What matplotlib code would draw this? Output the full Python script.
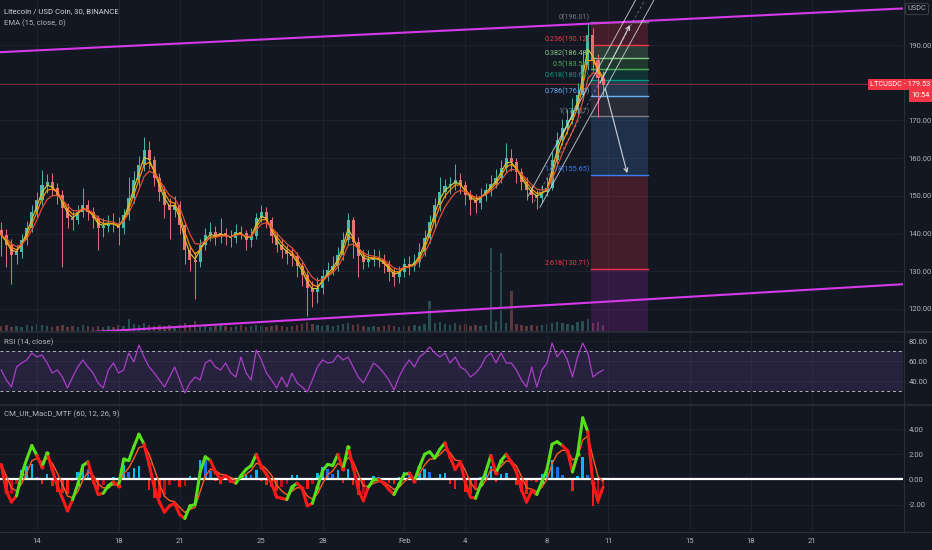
import numpy as np
import pandas as pd
import matplotlib
matplotlib.use('Agg')
import matplotlib.pyplot as plt
from matplotlib.collections import LineCollection
from matplotlib.lines import Line2D
import matplotlib.transforms as mtransforms

plt.rcParams['font.family'] = ['Roboto', 'DejaVu Sans']

# ---------------- data ----------------
first_open = 141.0
closes = [139.6, 137.0, 134.3, 135.1, 138.3, 141.5, 145.7, 148.9, 152.9, 153.7,
          152.1, 150.2, 146.8, 144.1, 143.6, 145.7, 147.6, 145.7, 144.1, 141.5,
          142.0, 142.8, 142.5, 141.5, 144.9, 149.4, 154.2, 158.2, 162.1, 159.5,
          154.7, 151.0, 147.6, 146.2, 147.6, 142.3, 135.6, 133.0, 132.4, 136.9,
          139.6, 140.4, 139.3, 140.1, 139.3, 138.8, 140.4, 140.1, 138.3, 139.3,
          144.1, 145.7, 143.6, 139.3, 137.0, 135.6, 134.6, 134.0, 131.4, 129.0,
          125.5, 124.5, 125.5, 128.7, 130.3, 131.4, 134.3, 138.3, 143.6, 137.7,
          134.0, 132.4, 133.0, 133.5, 133.0, 131.9, 129.8, 128.5, 129.8, 131.9,
          131.4, 132.4, 135.1, 138.8, 143.0, 147.6, 151.0, 152.6, 153.1, 154.2,
          152.9, 150.2, 148.9, 148.1, 149.9, 151.5, 153.1, 154.7, 157.4, 160.0,
          159.0, 156.3, 153.7, 151.5, 150.2, 149.4, 151.0, 152.1, 159.5, 164.8,
          168.0, 170.1, 172.8, 176.7, 184.7, 192.7, 186.0, 181.2, 179.5]
highs = [143.0, 141.2, 138.5, 137.0, 140.0, 143.2, 147.5, 151.0, 156.8, 155.8,
         156.0, 153.5, 151.5, 148.0, 146.0, 147.5, 152.0, 149.0, 147.0, 145.0,
         144.0, 145.0, 145.5, 144.5, 146.5, 155.0, 156.5, 160.5, 165.6, 164.5,
         160.5, 156.0, 152.5, 149.5, 150.0, 148.5, 143.0, 137.0, 135.0, 138.5,
         141.5, 143.0, 142.0, 144.0, 141.5, 141.0, 142.5, 142.0, 141.0, 141.5,
         145.5, 147.5, 147.0, 144.5, 140.5, 138.5, 137.0, 136.5, 135.0, 132.5,
         130.0, 127.5, 128.5, 130.5, 132.5, 134.0, 136.5, 140.5, 145.5, 144.5,
         139.0, 135.5, 135.5, 136.0, 135.5, 134.5, 133.0, 131.0, 131.5, 133.5,
         134.0, 134.5, 137.5, 141.0, 145.0, 149.5, 155.0, 154.5, 155.0, 158.5,
         156.0, 154.0, 151.5, 150.5, 152.0, 153.5, 155.5, 157.0, 159.5, 164.0,
         162.5, 160.0, 157.5, 155.0, 153.0, 151.5, 153.0, 155.0, 161.5, 167.0,
         170.5, 173.0, 176.0, 180.0, 188.5, 196.0, 194.5, 187.5, 183.0]
lows = [134.0, 131.0, 126.5, 131.8, 133.5, 137.0, 140.5, 144.5, 147.5, 150.8,
        150.0, 147.8, 131.0, 141.5, 141.0, 142.5, 144.5, 143.5, 141.5, 135.5,
        139.0, 140.5, 140.5, 137.0, 140.0, 143.5, 148.0, 152.5, 156.5, 157.0,
        152.5, 148.5, 144.0, 138.5, 144.5, 140.0, 132.0, 130.0, 122.5, 131.0,
        135.5, 138.0, 137.0, 137.5, 137.0, 136.5, 137.5, 138.5, 135.5, 136.5,
        138.5, 143.0, 141.5, 137.5, 135.0, 133.5, 132.0, 131.5, 128.5, 126.0,
        118.0, 120.5, 121.5, 124.0, 127.5, 129.0, 130.0, 133.0, 137.0, 133.5,
        128.5, 130.5, 131.0, 131.5, 131.0, 129.5, 127.5, 126.0, 127.0, 128.5,
        129.0, 130.0, 131.0, 134.0, 137.5, 141.5, 146.0, 149.5, 150.5, 151.5,
        150.5, 147.5, 145.0, 145.5, 146.5, 148.5, 150.0, 152.0, 153.5, 156.0,
        156.5, 153.5, 151.5, 149.0, 148.0, 146.5, 148.0, 150.0, 151.5, 158.5,
        163.5, 166.5, 169.0, 171.5, 175.5, 183.5, 183.0, 171.0, 176.5]
volumes = [5, 6, 4, 5, 4, 6, 5, 7, 6, 5,
           4, 5, 6, 4, 5, 4, 6, 5, 4, 5,
           4, 5, 4, 6, 5, 12, 7, 6, 8, 6,
           5, 6, 5, 6, 5, 7, 8, 6, 10, 6,
           5, 4, 5, 6, 5, 4, 5, 6, 4, 5,
           6, 5, 4, 5, 6, 5, 4, 5, 6, 7,
           9, 7, 6, 5, 6, 5, 6, 7, 8, 6,
           7, 5, 4, 5, 4, 5, 6, 5, 4, 5,
           5, 6, 5, 7, 30, 8, 9, 7, 6, 8,
           6, 7, 5, 6, 5, 6, 83, 10, 78, 8,
           40, 7, 6, 5, 6, 5, 6, 7, 8, 9,
           8, 7, 6, 9, 10, 12, 8, 9, 6]
rsi_vals = [51, 41, 34, 54, 58, 61, 68, 64, 66, 58,
            48, 51, 44, 33, 44, 54, 61, 54, 48, 38,
            33, 51, 58, 48, 51, 68, 59, 76, 64, 54,
            48, 41, 34, 44, 54, 41, 28, 38, 44, 41,
            58, 61, 54, 51, 58, 48, 44, 64, 48, 41,
            71, 61, 48, 41, 33, 44, 34, 48, 38, 34,
            29, 41, 54, 61, 58, 59, 66, 61, 64, 54,
            44, 38, 48, 58, 54, 48, 41, 31, 44, 54,
            61, 54, 64, 68, 74, 68, 64, 68, 58, 64,
            54, 51, 44, 48, 54, 64, 68, 58, 68, 58,
            58, 51, 41, 34, 54, 34, 51, 58, 78, 64,
            71, 61, 44, 64, 78, 68, 44, 48, 51]
macd_vals = [1.2, -0.9, -1.8, -1.3, 0.4, 1.6, 2.7, 1.9, 1.0, 2.1,
             0.8, -0.5, -1.5, -2.5, -1.6, -0.4, 1.1, 1.4, 0.0, -1.2,
             -1.1, -0.5, -0.2, -0.5, 1.6, 1.5, 2.6, 3.6, 2.8, 1.2,
             -0.6, -1.8, -2.6, -2.1, -1.9, -2.8, -3.1, -2.1, -2.0, 0.6,
             1.8, 1.5, 0.6, 0.0, 0.3, -0.1, -0.3, 0.3, 0.8, 1.1,
             2.0, 1.0, 0.4, -0.3, -1.4, -1.5, -1.6, -0.6, -0.3, -0.7,
             -2.1, -1.9, -0.6, 0.7, 1.2, 1.1, 2.0, 0.8, 2.6, 1.0,
             -0.8, -1.7, -0.6, 0.0, 0.0, -0.3, -0.8, -1.2, -0.4, 0.4,
             0.5, -0.1, 1.0, 2.0, 2.2, 1.7, 2.4, 2.9, 1.8, 0.8,
             1.4, -0.3, -1.4, -1.5, -0.4, 0.6, 1.9, 0.5, 1.5, 2.0,
             1.4, 0.6, -0.8, -1.8, -0.9, -1.2, -0.2, 0.8, 2.8, 3.0,
             2.7, 2.3, 0.6, 2.0, 4.9, 3.8, -0.3, -1.7, -0.6]

start_day = 11.25          # Jan 12, 06:00 (day 0 = Jan 1)
bar_step = 0.25            # days per bar
tick_days = [13, 17, 20, 24, 27, 31, 34, 38, 41, 45, 48, 51]
tick_labels = ['14', '18', '21', '25', '28', 'Feb', '4', '8', '11', '15', '18', '21']
price_ticks = [120, 130, 140, 150, 160, 170, 180, 190]
hidden_price_tick = 180    # covered by the last-price label
rsi_ticks = [40, 60, 80]
macd_ticks = [-2, 0, 2, 4]

fib_levels = ['0', '0.236', '0.382', '0.5', '0.618', '0.786', '1', '1.618', '2.618', '3.618']
fib_prices = [196.01, 190.12, 186.48, 183.54, 180.60, 176.40, 171.07, 155.65, 130.71, 105.77]
fib_colors = ['#787b86', '#f23645', '#81c784', '#4caf50', '#089981', '#64b5f6',
              '#787b86', '#3d7ff0', '#f23645', '#9c27b0']
fib_fill = ['#787b86', '#f23645', '#81c784', '#4caf50', '#089981', '#64b5f6',
            '#787b86', '#4a90d9', '#f23645', '#9c27b0']
fib_days = [40.16, 42.95]

last_price = 179.53
upper_trend = ([11.19, 55.45], [188.1, 199.7])
lower_trend = ([11.19, 55.45], [112.45, 126.55])
channel_a = ([37.66, 43.30], [147.0, 202.5])
channel_b = ([37.07, 42.40], [149.9, 202.5])
channel_mid = ([37.37, 42.85], [148.45, 202.5])
arrow_up = ((40.60, 179.9), (42.07, 195.3))
arrow_down = ((40.85, 178.6), (41.93, 156.0))

# ---------------- style ----------------
BG = '#131722'
TXT = '#b2b5be'
GRID = '#1e222d'
UP = '#4db6ac'
DN = '#e57373'
W, H = 932, 550

fig = plt.figure(figsize=(W / 100, H / 100), dpi=100, facecolor=BG)


def prect(x0, y0, x1, y1):
    return [x0 / W, 1 - y1 / H, (x1 - x0) / W, (y1 - y0) / H]


ax_vol = fig.add_axes(prect(0, 0, 903, 331))
ax = fig.add_axes(prect(0, 0, 903, 331), sharex=ax_vol)
ax_rsi = fig.add_axes(prect(0, 333, 903, 404), sharex=ax_vol)
ax_macd = fig.add_axes(prect(0, 405, 903, 531), sharex=ax_vol)

for a in (ax_vol, ax, ax_rsi, ax_macd):
    a.set_facecolor(BG)
    for s in a.spines.values():
        s.set_visible(False)
    a.yaxis.tick_right()
    a.tick_params(axis='both', length=0, colors=TXT, labelsize=5.5, pad=4)
    a.tick_params(axis='x', labelbottom=False)
ax.patch.set_alpha(0)
ax_vol.set_yticks([])

xmin, xmax = 11.19, 55.45
days = start_day + bar_step * np.arange(len(closes))
c = np.array(closes)
o = np.r_[first_open, c[:-1]]
hi = np.array(highs)
lo = np.array(lows)
up = c >= o
cols = np.where(up, UP, DN)

# volume
ax_vol.bar(days, volumes, width=0.12, color=cols, alpha=0.35)
ax_vol.set_ylim(0, max(volumes) * 3.99)

# grids
for a in (ax, ax_rsi, ax_macd):
    for d in tick_days:
        a.axvline(d, color=GRID, lw=0.8, zorder=0)
for p in price_ticks:
    ax.axhline(p, color=GRID, lw=0.8, zorder=0)
for r in rsi_ticks:
    ax_rsi.axhline(r, color=GRID, lw=0.8, zorder=0)
for m_ in macd_ticks:
    ax_macd.axhline(m_, color=GRID, lw=0.8, zorder=0)

# fib retracement
for k in range(len(fib_prices) - 1):
    ax.fill_between(fib_days, fib_prices[k + 1], fib_prices[k],
                    color=fib_fill[k + 1], alpha=0.22, lw=0, zorder=1)
for k in range(len(fib_prices)):
    ax.plot(fib_days, [fib_prices[k]] * 2, color=fib_colors[k], lw=1.0, zorder=2)
    if k < len(fib_prices) - 1:
        ax.text(fib_days[0] - 0.08, fib_prices[k] + 0.3,
                f'{fib_levels[k]}({fib_prices[k]:.2f})', color=fib_colors[k],
                fontsize=5.2, ha='right', va='bottom', zorder=6)

# last price line
ax.axhline(last_price, color='#f23645', lw=0.6, alpha=0.55, zorder=1)

# candles
ax.vlines(days, lo, hi, colors=cols, lw=0.7, zorder=3)
ax.bar(days, np.abs(c - o) + 0.05, bottom=np.minimum(o, c), width=0.15,
       color=cols, zorder=3)

# EMAs
for span, col in ((2, '#d8c53a'), (3, '#ff9800'), (5, '#e8503a')):
    ema = pd.Series(c).ewm(span=span, adjust=False).mean()
    ax.plot(days, ema, color=col, lw=0.85, zorder=4)

# trend lines
ax.plot(*upper_trend, color='#d63ae8', lw=1.5, zorder=5)
ax.plot(*lower_trend, color='#d63ae8', lw=1.5, zorder=5)

# channel + arrows
ax.plot(*channel_a, color='#d1d4dc', lw=0.7, alpha=0.85, zorder=5)
ax.plot(*channel_b, color='#d1d4dc', lw=0.7, alpha=0.85, zorder=5)
ax.plot(*channel_mid, color='#d1d4dc', lw=0.6, alpha=0.5, ls=(0, (3, 3)), zorder=5)
for (s, e) in (arrow_up, arrow_down):
    ax.annotate('', xy=e, xytext=s, zorder=6,
                arrowprops=dict(arrowstyle='->', color='#d1d4dc', lw=0.8,
                                shrinkA=0, shrinkB=0, mutation_scale=7))

ax.set_xlim(xmin, xmax)
ax.set_ylim(114.14, 201.94)
ax.set_yticks(price_ticks)
ax.set_yticklabels(['' if p == hidden_price_tick else f'{p:.2f}' for p in price_ticks])

# RSI
ax_rsi.axhspan(30, 70, color='#7e57c2', alpha=0.18, lw=0)
ax_rsi.axhline(70, color='#b2b5be', lw=0.7, ls=(0, (3, 3)))
ax_rsi.axhline(30, color='#b2b5be', lw=0.7, ls=(0, (3, 3)))
ax_rsi.plot(days, rsi_vals, color='#a93fc6', lw=0.9)
ax_rsi.set_ylim(17, 88)
ax_rsi.set_yticks(rsi_ticks)
ax_rsi.set_yticklabels([f'{r:.2f}' for r in rsi_ticks])

# MACD
m = np.array(macd_vals)
sig = pd.Series(m).ewm(span=3.5, adjust=False).mean().values
hist = m - sig
hcols = []
for k in range(len(hist)):
    prev = hist[k - 1] if k > 0 else 0
    if hist[k] >= 0:
        hcols.append('#00bcf2' if hist[k] >= prev else '#1e6cf0')
    else:
        hcols.append('#ff1a1a' if hist[k] <= prev else '#c2101a')
ax_macd.bar(days, hist, width=0.13, color=hcols, zorder=2)
ax_macd.axhline(0, color='white', lw=1.6, zorder=3)
ax_macd.plot(days, sig, color='#ff5a1f', lw=1.0, zorder=4)
pts = np.column_stack([days, m]).reshape(-1, 1, 2)
segs = np.concatenate([pts[:-1], pts[1:]], axis=1)
seg_cols = ['#55e01a' if m[k + 1] >= sig[k + 1] else '#ff1a1a' for k in range(len(m) - 1)]
ax_macd.add_collection(LineCollection(segs, colors=seg_cols, linewidths=2.2, zorder=5,
                                      capstyle='round'))
state = m >= sig
for k in range(1, len(m)):
    if state[k] != state[k - 1]:
        ax_macd.scatter(days[k], m[k], s=9, color='#55e01a' if state[k] else '#ff1a1a',
                        zorder=6, lw=0)
ax_macd.set_ylim(-4.10, 5.92)
ax_macd.set_yticks(macd_ticks)
ax_macd.set_yticklabels([f'{v:.2f}' for v in macd_ticks])
ax_macd.set_xticks(tick_days)
ax_macd.set_xticklabels(tick_labels)
ax_macd.tick_params(axis='x', labelbottom=True, pad=5, labelsize=5.5)

# separators
sep = '#2a2e39'
fig.add_artist(Line2D([0, 1], [1 - 332 / H] * 2, color=sep, lw=1.2))
fig.add_artist(Line2D([0, 1], [1 - 404.5 / H] * 2, color=sep, lw=1.2))
fig.add_artist(Line2D([0, 1], [1 - 531.5 / H] * 2, color=sep, lw=0.8))
fig.add_artist(Line2D([903.5 / W] * 2, [1 - 531.5 / H, 1], color=sep, lw=0.8))

# titles
fig.text(4 / W, 1 - 11 / H, 'Litecoin / USD Coin, 30, BINANCE', color='#d1d4dc',
         fontsize=5.6, va='center')
fig.text(4 / W, 1 - 23 / H, 'EMA (15, close, 0)', color=TXT, fontsize=5.6, va='center')
fig.text(4 / W, 1 - 342 / H, 'RSI (14, close)', color=TXT, fontsize=5.6, va='center')
fig.text(4 / W, 1 - 414 / H, 'CM_Ult_MacD_MTF (60, 12, 26, 9)', color=TXT,
         fontsize=5.6, va='center')

# price labels on the right
trans = mtransforms.blended_transform_factory(fig.transFigure, ax.transData)
fig.text(930 / W, last_price, 'LTCUSDC - 179.53', transform=trans, color='white',
         fontsize=5.3, ha='right', va='center', zorder=10,
         bbox=dict(boxstyle='square,pad=0.3', fc='#f23645', ec='none'))
trans2 = mtransforms.offset_copy(trans, fig=fig, y=-11.5, units='dots')
fig.text(930 / W, last_price, '10:54', transform=trans2, color='white',
         fontsize=5.3, ha='right', va='center', zorder=10,
         bbox=dict(boxstyle='square,pad=0.3', fc='#f23645', ec='none'))
fig.text(917 / W, 1 - 9 / H, 'USDC', color=TXT, fontsize=5.3, ha='center', va='center',
         bbox=dict(boxstyle='round,pad=0.3', fc=BG, ec='#434651', lw=0.6))

fig.savefig('out.png', dpi=100, facecolor=BG)
